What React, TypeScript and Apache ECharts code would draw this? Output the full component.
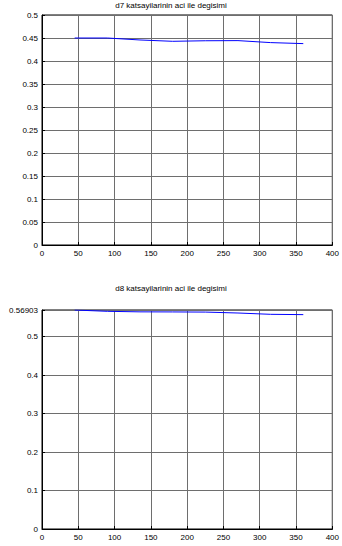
import React, { useEffect, useRef } from "react";
import * as echarts from "echarts";

const angles = [45, 90, 135, 180, 225, 270, 315, 360];
const d7Values = [0.45, 0.45, 0.4457, 0.4428, 0.4440, 0.4443, 0.4400, 0.4378];
const d8Values = [0.56903, 0.5656, 0.5642, 0.5640, 0.5636, 0.5612, 0.5578, 0.5570];
const titles = ["d7 katsayilarinin aci ile degisimi", "d8 katsayilarinin aci ile degisimi"];
const d8Max = 0.56903;

export default function App() {
  const ref = useRef<HTMLDivElement>(null);
  useEffect(() => {
    if (!ref.current) return;
    const chart = echarts.init(ref.current, null, { renderer: "svg" });
    const font = "Liberation Sans, Arial, sans-serif";
    const axisCommon = (gridIndex: number) => ({
      gridIndex,
      axisLine: { show: true, onZero: false, lineStyle: { color: "#000", width: 1 } },
      axisTick: { show: true, inside: true, length: 3, lineStyle: { color: "#000" } },
      splitLine: { show: true, lineStyle: { color: "#6e6e6e", width: 1 } },
      axisLabel: { color: "#000", fontSize: 8, fontFamily: font },
    });
    const xAxis = (gridIndex: number) => ({
      ...axisCommon(gridIndex),
      type: "value",
      min: 0,
      max: 400,
      interval: 50,
      axisLabel: { color: "#000", fontSize: 8, fontFamily: font, margin: 4 },
    });
    chart.setOption({
      animation: false,
      backgroundColor: "#fff",
      title: [
        { text: titles[0], left: "center", top: 1, padding: 0, textStyle: { fontSize: 8, fontWeight: "normal", color: "#000", fontFamily: font } },
        { text: titles[1], left: "center", top: 284, padding: 0, textStyle: { fontSize: 8, fontWeight: "normal", color: "#000", fontFamily: font } },
      ],
      grid: [
        { left: 42, top: 15, width: 293, height: 230, show: true, borderColor: "#000", borderWidth: 1, backgroundColor: "#fff" },
        { left: 42, top: 310, width: 293, height: 219, show: true, borderColor: "#000", borderWidth: 1, backgroundColor: "#fff" },
      ],
      xAxis: [xAxis(0), xAxis(1)],
      yAxis: [
        {
          ...axisCommon(0),
          type: "value",
          min: 0,
          max: 0.5,
          interval: 0.05,
          axisLabel: { color: "#000", fontSize: 8, fontFamily: font, margin: 4 },
        },
        {
          ...axisCommon(1),
          type: "value",
          min: 0,
          max: d8Max,
          interval: 0.1,
          axisLabel: { color: "#000", fontSize: 8, fontFamily: font, margin: 4, showMaxLabel: true },
        },
      ],
      series: [
        {
          type: "line",
          xAxisIndex: 0,
          yAxisIndex: 0,
          data: angles.map((a, i) => [a, d7Values[i]]),
          showSymbol: false,
          lineStyle: { color: "#0000ff", width: 1 },
        },
        {
          type: "line",
          xAxisIndex: 1,
          yAxisIndex: 1,
          data: angles.map((a, i) => [a, d8Values[i]]),
          showSymbol: false,
          lineStyle: { color: "#0000ff", width: 1 },
        },
      ],
    });
    return () => chart.dispose();
  }, []);
  return <div ref={ref} style={{ position: "absolute", left: 0, top: 0, width: 342, height: 546 }} />;
}
